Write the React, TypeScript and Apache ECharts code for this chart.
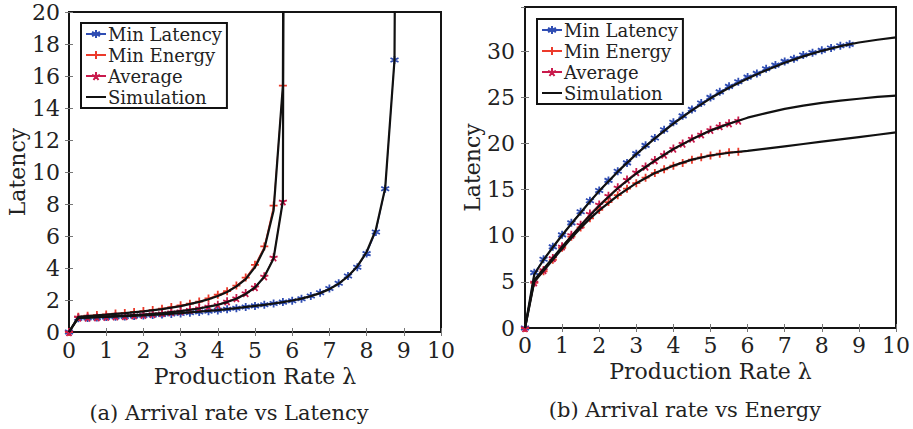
import React, { useEffect, useRef } from "react";
import * as echarts from "echarts";

// ---------- data ----------
const markX = [0, 0.25, 0.5, 0.75, 1, 1.25, 1.5, 1.75, 2, 2.25, 2.5, 2.75, 3, 3.25, 3.5, 3.75, 4, 4.25, 4.5, 4.75, 5, 5.25, 5.5, 5.75, 6, 6.25, 6.5, 6.75, 7, 7.25, 7.5, 7.75, 8, 8.25, 8.5, 8.75];
const markXShort = [0, 0.25, 0.5, 0.75, 1, 1.25, 1.5, 1.75, 2, 2.25, 2.5, 2.75, 3, 3.25, 3.5, 3.75, 4, 4.25, 4.5, 4.75, 5, 5.25, 5.5, 5.75];

// (a) Arrival rate vs Latency
const minLatencyA = [0, 0.86, 0.88, 0.9, 0.93, 0.95, 0.97, 1.0, 1.03, 1.06, 1.1, 1.13, 1.16, 1.2, 1.25, 1.3, 1.35, 1.42, 1.48, 1.56, 1.63, 1.7, 1.78, 1.87, 1.95, 2.08, 2.25, 2.45, 2.72, 3.05, 3.5, 4.05, 4.9, 6.25, 8.95, 17.0];
const minEnergyA = [0, 0.96, 1.02, 1.06, 1.1, 1.15, 1.19, 1.25, 1.31, 1.38, 1.46, 1.56, 1.67, 1.77, 1.9, 2.1, 2.33, 2.55, 2.9, 3.4, 4.2, 5.35, 7.9, 15.4];
const averageA = [0, 0.9, 0.9, 0.92, 0.96, 0.98, 1.0, 1.04, 1.08, 1.13, 1.19, 1.25, 1.31, 1.4, 1.5, 1.6, 1.71, 1.92, 2.12, 2.44, 2.81, 3.48, 4.67, 8.17];

const simLatXA = [0, 0.25, 0.5, 1, 1.5, 2, 2.5, 3, 3.5, 4, 4.5, 5, 5.25, 5.5, 5.75, 6, 6.25, 6.5, 6.75, 7, 7.25, 7.5, 7.75, 8, 8.25, 8.5, 8.75, 8.78];
const simLatA = [0, 0.88, 0.9, 0.94, 0.99, 1.04, 1.1, 1.18, 1.27, 1.37, 1.49, 1.63, 1.7, 1.78, 1.87, 1.97, 2.09, 2.24, 2.43, 2.68, 3.02, 3.48, 4.1, 5.0, 6.4, 9.0, 17.0, 30];
const simEnergyXA = [0, 0.25, 0.5, 1, 1.5, 2, 2.5, 3, 3.5, 3.75, 4, 4.25, 4.5, 4.75, 5, 5.25, 5.5, 5.75, 5.77];
const simEnergyA = [0, 0.95, 1.0, 1.08, 1.18, 1.29, 1.43, 1.62, 1.88, 2.05, 2.25, 2.5, 2.85, 3.3, 4.05, 5.2, 7.6, 15.4, 30];
const simAvgXA = [0, 0.25, 0.5, 1, 1.5, 2, 2.5, 3, 3.5, 4, 4.25, 4.5, 4.75, 5, 5.25, 5.5, 5.75, 5.77];
const simAvgA = [0, 0.9, 0.92, 0.97, 1.02, 1.09, 1.18, 1.3, 1.47, 1.7, 1.87, 2.08, 2.38, 2.78, 3.45, 4.6, 8.2, 30];

// (b) Arrival rate vs Energy
const minLatencyB = [0, 6.0, 7.45, 8.8, 10.1, 11.4, 12.6, 13.8, 14.9, 16.0, 17.0, 17.9, 18.9, 19.8, 20.6, 21.5, 22.3, 23.0, 23.7, 24.4, 25.0, 25.6, 26.2, 26.7, 27.2, 27.6, 28.1, 28.5, 28.9, 29.2, 29.6, 29.85, 30.1, 30.35, 30.6, 30.75];
const minEnergyB = [0, 4.9, 6.15, 7.4, 8.7, 9.9, 10.9, 11.9, 12.8, 13.65, 14.4, 15.1, 15.7, 16.3, 16.8, 17.2, 17.6, 17.9, 18.25, 18.5, 18.7, 18.9, 19.05, 19.1];
const averageB = [0, 4.95, 6.3, 7.6, 8.85, 10.1, 11.2, 12.4, 13.4, 14.35, 15.25, 16.1, 16.9, 17.5, 18.2, 18.8, 19.45, 20.0, 20.55, 21.0, 21.5, 21.9, 22.2, 22.5];

const simXB = [0, 0.25, 0.5, 0.75, 1, 1.25, 1.5, 1.75, 2, 2.5, 3, 3.5, 4, 4.5, 5, 5.5, 6, 6.5, 7, 7.5, 8, 8.5, 9, 9.5, 10];
const simLatB = [0, 5.8, 7.4, 8.75, 10.05, 11.3, 12.5, 13.7, 14.85, 16.95, 18.85, 20.55, 22.15, 23.6, 24.9, 26.05, 27.05, 27.95, 28.75, 29.45, 30.05, 30.55, 30.95, 31.25, 31.5];
const simAvgB = [0, 5.2, 6.4, 7.6, 8.8, 9.95, 11.1, 12.2, 13.25, 15.15, 16.75, 18.15, 19.4, 20.45, 21.4, 22.15, 22.8, 23.3, 23.75, 24.1, 24.4, 24.65, 24.85, 25.05, 25.2];
const simEnergyB = [0, 5.0, 6.2, 7.4, 8.6, 9.75, 10.85, 11.85, 12.75, 14.35, 15.7, 16.8, 17.6, 18.25, 18.7, 19.0, 19.2, 19.45, 19.7, 19.95, 20.2, 20.45, 20.7, 20.95, 21.2];

const legendNames = ["Min Latency", "Min Energy", "Average", "Simulation"];
const xTitle = "Production Rate λ";
const yTitle = "Latency";
const captions = ["(a) Arrival rate vs Latency", "(b) Arrival rate vs Energy"];

// ---------- styles ----------
const FONT = "DejaVu Serif, serif";
const BLUE = "#2f4db3";
const RED = "#ec3a2b";
const CRIMSON = "#c91a4c";
const ASTERISK = "path://M0,-1L0,1M-0.866,-0.5L0.866,0.5M-0.866,0.5L0.866,-0.5";
const PLUS = "path://M-1,0L1,0M0,-1L0,1";
const STAR = "path://M0,0L0,-1M0,0L0.951,-0.309M0,0L0.588,0.809M0,0L-0.588,0.809M0,0L-0.951,-0.309";

const pair = (xs: number[], ys: number[]) => xs.map((x, i) => [x, ys[i]]);

function markSeries(name: string, color: string, symbol: string, xs: number[], ys: number[], axis: number) {
  return {
    type: "line",
    name,
    xAxisIndex: axis * 2,
    yAxisIndex: axis * 2,
    data: pair(xs, ys),
    symbol,
    symbolSize: 8,
    showAllSymbol: true,
    lineStyle: { color, width: 1 },
    itemStyle: { color, borderColor: color, borderWidth: 1.8 },
    z: 2,
  };
}
function simSeries(xs: number[], ys: number[], axis: number) {
  return {
    type: "line",
    name: "Simulation",
    xAxisIndex: axis * 2,
    yAxisIndex: axis * 2,
    data: pair(xs, ys),
    symbol: "line",
    showSymbol: false,
    lineStyle: { color: "#111", width: 2.2 },
    itemStyle: { color: "#111", borderColor: "#111", borderWidth: 0 },
    z: 3,
  };
}

const tickStyle = { inside: true, length: 4, lineStyle: { color: "#777", width: 1 } };

function mainX(grid: number, gap: number, margin: number) {
  return {
    type: "value",
    gridIndex: grid,
    position: "bottom",
    min: 0,
    max: 10,
    interval: 1,
    axisLine: { show: false },
    axisTick: tickStyle,
    axisLabel: { fontSize: 22, fontFamily: FONT, color: "#222", margin },
    splitLine: { show: false },
    name: xTitle,
    nameLocation: "middle",
    nameGap: gap,
    nameTextStyle: { fontSize: 22, fontFamily: FONT, color: "#222" },
  };
}
function mirrorX(grid: number) {
  return {
    type: "value",
    gridIndex: grid,
    position: "top",
    min: 0,
    max: 10,
    interval: 1,
    axisLine: { show: false },
    axisTick: tickStyle,
    axisLabel: { show: false },
    splitLine: { show: false },
  };
}
function mainY(grid: number, max: number, interval: number, gap: number, margin: number) {
  return {
    type: "value",
    gridIndex: grid,
    position: "left",
    min: 0,
    max,
    interval,
    axisLine: { show: false },
    axisTick: tickStyle,
    axisLabel: { fontSize: 22, fontFamily: FONT, color: "#222", margin, showMaxLabel: max % interval === 0 },
    splitLine: { show: false },
    name: yTitle,
    nameLocation: "middle",
    nameGap: gap,
    nameTextStyle: { fontSize: 22, fontFamily: FONT, color: "#222" },
  };
}
function mirrorY(grid: number, max: number, interval: number) {
  return {
    type: "value",
    gridIndex: grid,
    position: "right",
    min: 0,
    max,
    interval,
    axisLine: { show: false },
    axisTick: tickStyle,
    axisLabel: { show: false },
    splitLine: { show: false },
  };
}
function legendAt(left: number, top: number) {
  return {
    orient: "vertical",
    left,
    top,
    data: legendNames,
    selectedMode: false,
    itemWidth: 20,
    itemHeight: 10,
    itemGap: 1,
    padding: [1, 5, 1, 4],
    borderColor: "#111",
    borderWidth: 2,
    backgroundColor: "#fff",
    textStyle: { fontSize: 18, lineHeight: 20, fontFamily: FONT, color: "#222", padding: [0, 0, 0, -3] },
  };
}

export default function App() {
  const ref = useRef<HTMLDivElement>(null);
  useEffect(() => {
    if (!ref.current) return;
    const chart = echarts.init(ref.current, null, { renderer: "svg" });
    chart.setOption({
      animation: false,
      backgroundColor: "#fff",
      textStyle: { fontFamily: FONT },
      grid: [
        { left: 69, top: 12, width: 372, height: 320, show: true, borderColor: "#151515", borderWidth: 2, backgroundColor: "transparent" },
        { left: 525, top: 7, width: 371, height: 321, show: true, borderColor: "#151515", borderWidth: 2, backgroundColor: "transparent" },
      ],
      xAxis: [mainX(0, 30, 7), mirrorX(0), mainX(1, 30, 6), mirrorX(1)],
      yAxis: [mainY(0, 20, 2, 41, 9), mirrorY(0, 20, 2), mainY(1, 34.8, 5, 40, 10), mirrorY(1, 34.8, 5)],
      legend: [legendAt(81, 23), legendAt(537, 19)],
      series: [
        markSeries("Min Latency", BLUE, ASTERISK, markX, minLatencyA, 0),
        markSeries("Min Energy", RED, PLUS, markXShort, minEnergyA, 0),
        markSeries("Average", CRIMSON, STAR, markXShort, averageA, 0),
        simSeries(simLatXA, simLatA, 0),
        simSeries(simEnergyXA, simEnergyA, 0),
        simSeries(simAvgXA, simAvgA, 0),
        markSeries("Min Latency", BLUE, ASTERISK, markX, minLatencyB, 1),
        markSeries("Min Energy", RED, PLUS, markXShort, minEnergyB, 1),
        markSeries("Average", CRIMSON, STAR, markXShort, averageB, 1),
        simSeries(simXB, simLatB, 1),
        simSeries(simXB, simAvgB, 1),
        simSeries(simXB, simEnergyB, 1),
      ],
      graphic: [
        { type: "text", x: 229, y: 413, style: { text: captions[0], fontSize: 21, fontFamily: FONT, fill: "#222", textAlign: "center", textVerticalAlign: "middle" } },
        { type: "text", x: 685, y: 410, style: { text: captions[1], fontSize: 21, fontFamily: FONT, fill: "#222", textAlign: "center", textVerticalAlign: "middle" } },
      ],
    });
    return () => chart.dispose();
  }, []);
  return <div ref={ref} style={{ position: "fixed", left: 0, top: 0, width: 913, height: 429 }} />;
}
